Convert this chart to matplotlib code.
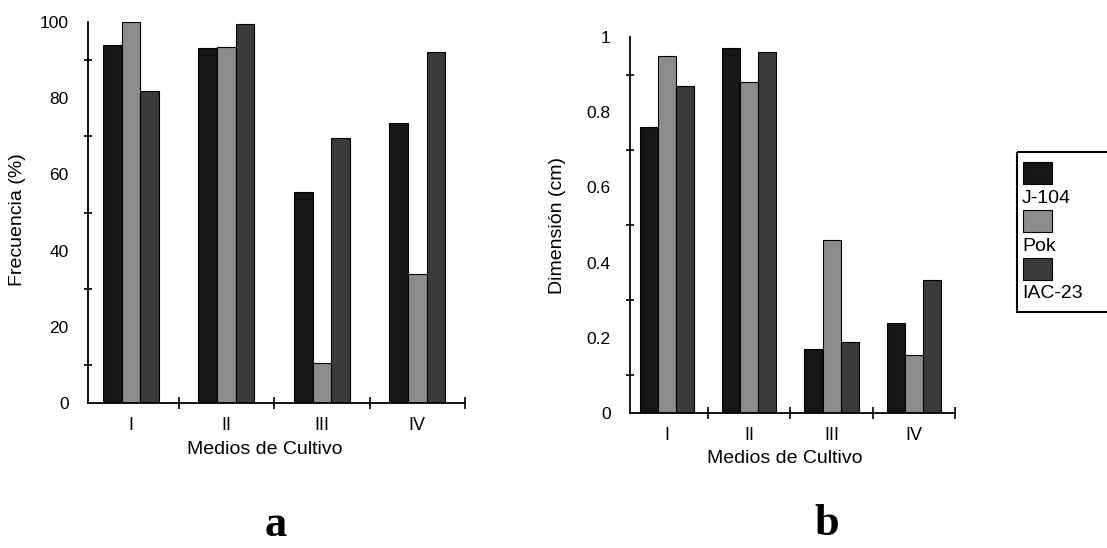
import matplotlib.pyplot as plt
import numpy as np
from matplotlib.patches import Rectangle

plt.rcParams['font.family'] = ['Liberation Sans', 'DejaVu Sans']

medios = ['I', 'II', 'III', 'IV']
variedades = ['J-104', 'Pok', 'IAC-23']
colores = ['#161616', '#8c8c8c', '#3a3a3a']

# a: frecuencia (%)
frec_j104 = [94, 93.3, 55.5, 73.6]
frec_pok = [100, 93.5, 10.5, 33.8]
frec_iac = [82, 99.5, 69.5, 92]

# b: dimension (cm)
dim_j104 = [0.76, 0.97, 0.17, 0.24]
dim_pok = [0.95, 0.88, 0.46, 0.155]
dim_iac = [0.87, 0.96, 0.19, 0.355]

fig = plt.figure(figsize=(11.07, 5.48), dpi=100)
W, H = 1107, 548


def panel(rect, series, width, ymax, major, minor, fmt, ylabel, xlab_pos, ylab_pos):
    ax = fig.add_axes(rect)
    x = np.arange(len(medios))
    for k, vals in enumerate(series):
        ax.bar(x + (k - 1) * width, vals, width, color=colores[k],
               edgecolor='black', linewidth=0.8)
    ax.set_xlim(-0.45, 3.5)
    ax.set_ylim(0, ymax)
    for s in ['top', 'right']:
        ax.spines[s].set_visible(False)
    for s in ['left', 'bottom']:
        ax.spines[s].set_linewidth(1.3)
    ax.set_yticks(major)
    ax.set_yticklabels([fmt(v) for v in major])
    ax.set_yticks(minor, minor=True)
    ax.tick_params(axis='y', which='major', length=0, pad=14, labelsize=12.5)
    ax.tick_params(axis='y', which='minor', length=6, direction='inout', width=1.2)
    ax.set_xticks(x)
    ax.set_xticklabels(medios)
    ax.set_xticks([0.5, 1.5, 2.5, 3.5], minor=True)
    ax.tick_params(axis='x', which='major', length=0, pad=10, labelsize=13)
    ax.tick_params(axis='x', which='minor', length=8, direction='inout', width=1.2)
    ax.set_xlabel('Medios de Cultivo', fontsize=14, va='center')
    ax.set_ylabel(ylabel, fontsize=14, va='center')
    ax.xaxis.set_label_coords(*xlab_pos)
    ax.yaxis.set_label_coords(*ylab_pos)
    return ax


panel([88 / W, 145 / H, 377 / W, 381 / H],
      [frec_j104, frec_pok, frec_iac], 0.195, 100,
      [0, 20, 40, 60, 80, 100], [10, 30, 50, 70, 90],
      lambda v: f'{v:d}', 'Frecuencia (%)', (0.47, -0.121), (-0.186, 0.48))

panel([630 / W, 135 / H, 325 / W, 376 / H],
      [dim_j104, dim_pok, dim_iac], 0.22, 1.0,
      [0, 0.2, 0.4, 0.6, 0.8, 1.0], [0.1, 0.3, 0.5, 0.7, 0.9],
      lambda v: '0' if v == 0 else ('1' if v == 1 else f'{v:.1f}'),
      'Dimensión (cm)', (0.477, -0.12), (-0.222, 0.5))

# legend box, patch above each label
lax = fig.add_axes([1017 / W, (548 - 312) / H, 100 / W, 160 / H])
lax.set_xlim(0, 100)
lax.set_ylim(160, 0)
lax.axis('off')
lax.add_patch(Rectangle((0, 0), 110, 160, fill=False, edgecolor='black',
                        linewidth=1.5, clip_on=False))
for k, name in enumerate(variedades):
    top = 10 + k * 48
    lax.add_patch(Rectangle((6, top), 29, 22, facecolor=colores[k],
                            edgecolor='black', linewidth=0.8))
    lax.text(5, top + 36, name, fontsize=14, va='center', ha='left')

fig.text(276 / W, 1 - 525 / H, 'a', family='Liberation Serif',
         fontweight='bold', fontsize=32, ha='center', va='center')
fig.text(827 / W, 1 - 524 / H, 'b', family='Liberation Serif',
         fontweight='bold', fontsize=32, ha='center', va='center')

fig.savefig('out.png', dpi=100)
